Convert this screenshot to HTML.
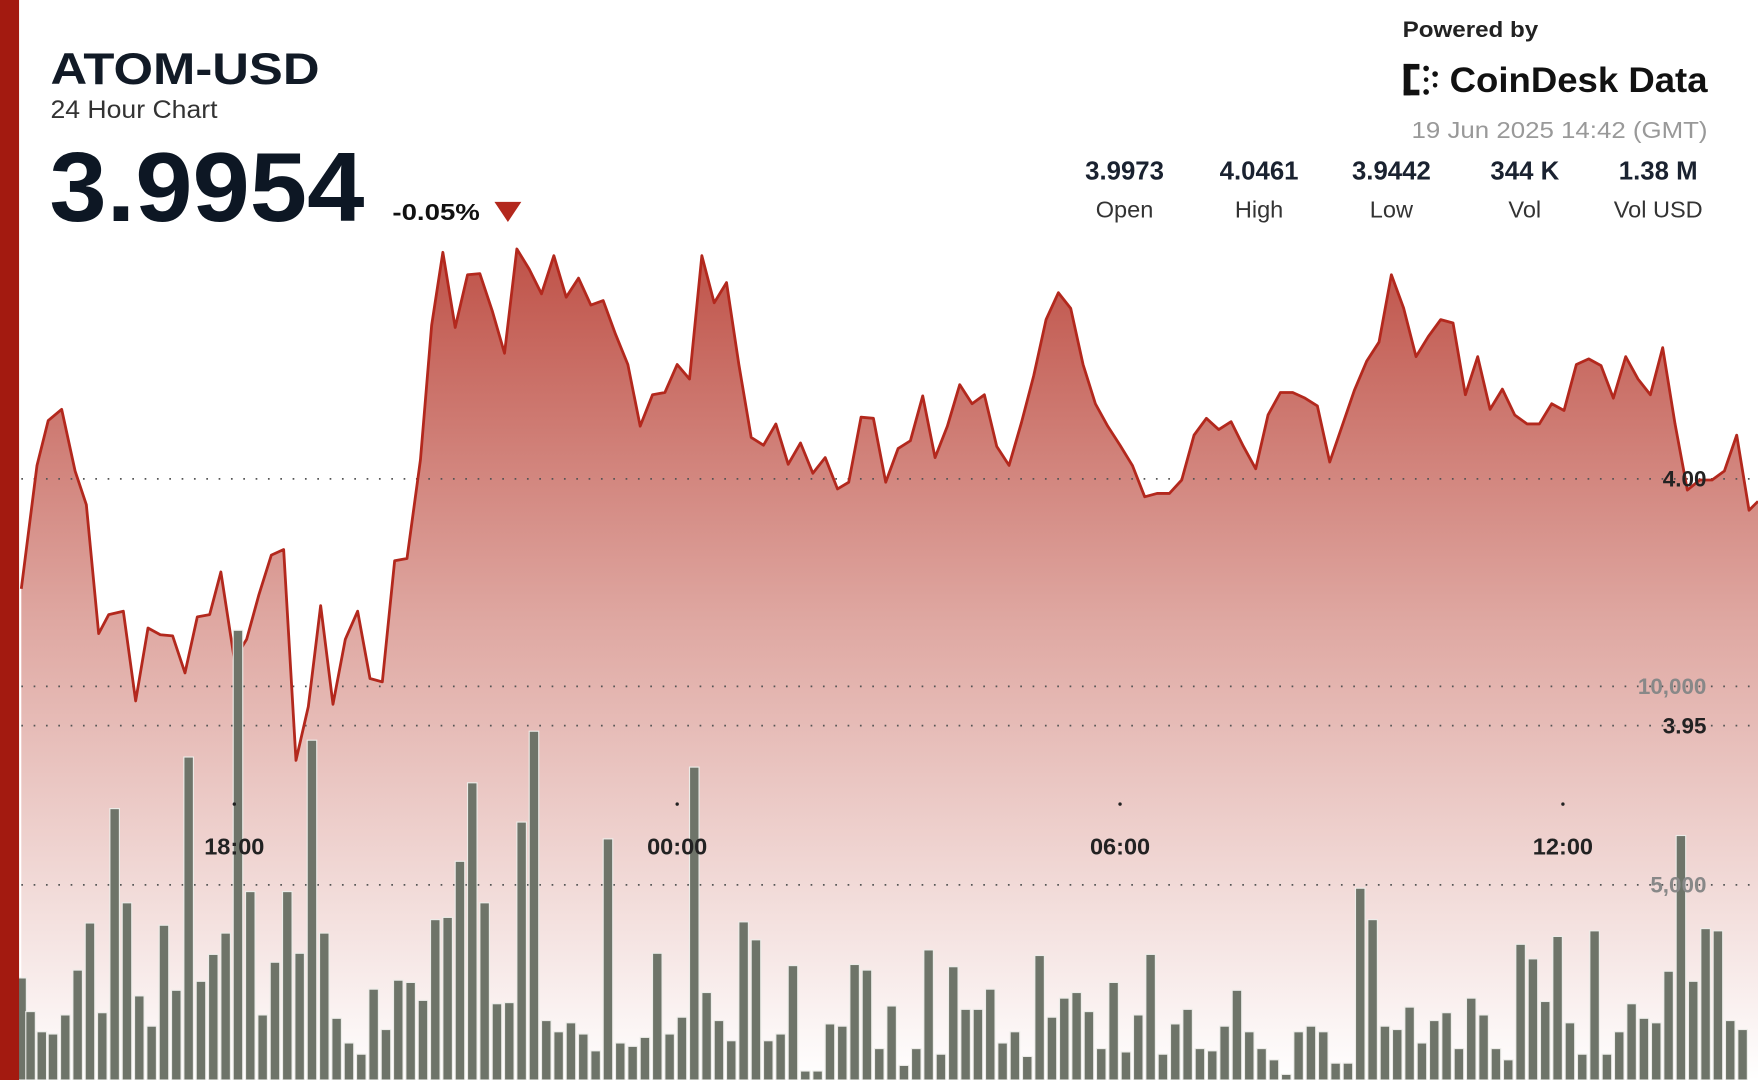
<!DOCTYPE html>
<html><head><meta charset="utf-8"><style>
html,body{margin:0;padding:0;background:#fff;}
svg{display:block;font-family:"Liberation Sans",sans-serif;}
</style></head><body>
<svg width="1758" height="1080" viewBox="0 0 1568 963" preserveAspectRatio="none" xmlns="http://www.w3.org/2000/svg">
<defs>
<linearGradient id="g" x1="0" y1="0" x2="0" y2="1">
<stop offset="0" stop-color="#bf5248"/>
<stop offset="0.45" stop-color="#dfa8a2"/>
<stop offset="1" stop-color="#ffffff"/>
</linearGradient>
</defs>
<rect width="1568" height="963" fill="#fff"/>
<path id="area" fill="url(#g)" d="M19,525 L33,415 43,375 55,365 67,420 77,450 88,565 97,548 110,545 121,625 132,560 143,566 154,567 165,600 176,550 187,548 197,510 209,588 220,570 231,530 242,495 253,490 264,678 275,630 286,540 297,628 308,570 319,545 330,605 341,608 352,500 363,498 375,410 385,290 395,225 406,292 417,245 428,244 439,277 450,315 461,222 472,240 483,262 494,228 505,265 516,248 527,272 538,268 549,298 560,325 571,380 582,352 593,350 604,325 615,338 626,228 637,270 648,252 659,325 670,390 681,397 692,378 703,414 714,395 725,422 736,408 747,436 757,430 768,372 779,373 790,430 801,400 812,393 823,353 834,408 845,380 856,343 867,360 878,352 889,398 900,415 911,377 922,335 933,285 944,261 955,275 966,325 977,360 988,380 999,397 1010,415 1021,443 1032,440 1043,440 1054,428 1065,388 1076,373 1087,383 1098,376 1109,398 1120,418 1131,370 1142,350 1153,350 1164,355 1175,362 1186,412 1197,380 1208,348 1219,322 1230,305 1241,245 1252,275 1263,318 1274,300 1285,285 1296,288 1307,352 1318,318 1329,365 1340,347 1351,370 1362,378 1373,378 1384,360 1395,366 1406,325 1417,320 1428,326 1439,355 1450,318 1461,338 1472,352 1483,310 1494,378 1505,437 1516,428 1527,428 1538,420 1549,388 1560,455 1568,447 L1568,963 L19,963 Z"/>
<g stroke="#555" stroke-width="1.5" stroke-dasharray="1.5 9.5">
<line x1="19" y1="427" x2="1568" y2="427"/>
<line x1="19" y1="612" x2="1568" y2="612"/>
<line x1="19" y1="647" x2="1568" y2="647"/>
<line x1="19" y1="789" x2="1568" y2="789"/>
</g>
<polyline fill="none" stroke="#b3281d" stroke-width="2.5" stroke-linejoin="round" points="19,525 33,415 43,375 55,365 67,420 77,450 88,565 97,548 110,545 121,625 132,560 143,566 154,567 165,600 176,550 187,548 197,510 209,588 220,570 231,530 242,495 253,490 264,678 275,630 286,540 297,628 308,570 319,545 330,605 341,608 352,500 363,498 375,410 385,290 395,225 406,292 417,245 428,244 439,277 450,315 461,222 472,240 483,262 494,228 505,265 516,248 527,272 538,268 549,298 560,325 571,380 582,352 593,350 604,325 615,338 626,228 637,270 648,252 659,325 670,390 681,397 692,378 703,414 714,395 725,422 736,408 747,436 757,430 768,372 779,373 790,430 801,400 812,393 823,353 834,408 845,380 856,343 867,360 878,352 889,398 900,415 911,377 922,335 933,285 944,261 955,275 966,325 977,360 988,380 999,397 1010,415 1021,443 1032,440 1043,440 1054,428 1065,388 1076,373 1087,383 1098,376 1109,398 1120,418 1131,370 1142,350 1153,350 1164,355 1175,362 1186,412 1197,380 1208,348 1219,322 1230,305 1241,245 1252,275 1263,318 1274,300 1285,285 1296,288 1307,352 1318,318 1329,365 1340,347 1351,370 1362,378 1373,378 1384,360 1395,366 1406,325 1417,320 1428,326 1439,355 1450,318 1461,338 1472,352 1483,310 1494,378 1505,437 1516,428 1527,428 1538,420 1549,388 1560,455 1568,447"/>
<g id="bars" fill="#6e7469" stroke="#ecece8" stroke-width="1"></g>
<g fill="#222" font-weight="bold" font-size="21" text-anchor="middle">
<text x="209" y="762">18:00</text><text x="604" y="762">00:00</text><text x="999" y="762">06:00</text><text x="1394" y="762">12:00</text>
<circle cx="209" cy="717" r="1.5"/><circle cx="604" cy="717" r="1.5"/><circle cx="999" cy="717" r="1.5"/><circle cx="1394" cy="717" r="1.5"/>
</g>
<g font-weight="bold" font-size="20" text-anchor="end">
<text x="1522" y="434" fill="#222">4.00</text>
<text x="1522" y="619" fill="#888">10,000</text>
<text x="1522" y="654" fill="#222">3.95</text>
<text x="1522" y="796" fill="#888">5,000</text>
</g>
<rect x="0" y="0" width="17" height="963" fill="#a31a10"/>
<text x="45" y="75" font-size="40" font-weight="bold" fill="#111a26" textLength="240" lengthAdjust="spacingAndGlyphs">ATOM-USD</text>
<text x="45" y="105" font-size="22" fill="#333" textLength="149" lengthAdjust="spacingAndGlyphs">24 Hour Chart</text>
<text x="44" y="197" font-size="88" font-weight="bold" fill="#0d1724" textLength="281" lengthAdjust="spacingAndGlyphs">3.9954</text>
<text x="350" y="196" font-size="21" font-weight="bold" fill="#111" textLength="78" lengthAdjust="spacingAndGlyphs">-0.05%</text>
<polygon points="441,180 465,180 453,198" fill="#b3281d"/>
<text x="1251" y="33" font-size="20" font-weight="bold" fill="#222" textLength="121" lengthAdjust="spacingAndGlyphs">Powered by</text>
<g fill="#111">
<rect x="1252" y="57" width="6" height="28"/><rect x="1252" y="57" width="14" height="5"/><rect x="1252" y="80" width="14" height="5"/>
<circle cx="1272" cy="61" r="2.5"/><circle cx="1280" cy="66" r="2.5"/><circle cx="1272" cy="71" r="2"/><circle cx="1280" cy="76" r="2"/><circle cx="1272" cy="82" r="2.5"/>
</g>
<text x="1293" y="82" font-size="31" font-weight="bold" fill="#111" textLength="230" lengthAdjust="spacingAndGlyphs">CoinDesk Data</text>
<text x="1259" y="123" font-size="21" fill="#999" textLength="264" lengthAdjust="spacingAndGlyphs">19 Jun 2025 14:42 (GMT)</text>
<g text-anchor="middle">
<g font-size="23" font-weight="bold" fill="#1a2230">
<text x="1003" y="160">3.9973</text><text x="1123" y="160">4.0461</text><text x="1241" y="160">3.9442</text><text x="1360" y="160">344 K</text><text x="1479" y="160">1.38 M</text>
</g>
<g font-size="21" fill="#333">
<text x="1003" y="194">Open</text><text x="1123" y="194">High</text><text x="1241" y="194">Low</text><text x="1360" y="194">Vol</text><text x="1479" y="194">Vol USD</text>
</g>
</g>
</svg>
<script>
var d=[[19,872],[27,902],[37,920],[47,922],[58,905],[69,865],[80,823],[91,903],[102,721],[113,805],[124,888],[135,915],[146,825],[157,883],[168,675],[179,875],[190,851],[201,832],[212,562],[223,795],[234,905],[245,858],[256,795],[267,850],[278,660],[289,832],[300,908],[311,930],[322,940],[333,882],[344,918],[355,874],[366,876],[377,892],[388,820],[399,818],[410,768],[421,698],[432,805],[443,895],[454,894],[465,733],[476,652],[487,910],[498,920],[509,912],[520,922],[531,937],[542,748],[553,930],[564,933],[575,925],[586,850],[597,922],[608,907],[619,684],[630,885],[641,910],[652,928],[663,822],[674,838],[685,928],[696,922],[707,861],[718,955],[729,955],[740,913],[751,915],[762,860],[773,865],[784,935],[795,897],[806,950],[817,935],[828,847],[839,940],[850,862],[861,900],[872,900],[883,882],[894,930],[905,920],[916,942],[927,852],[938,907],[949,890],[960,885],[971,902],[982,935],[993,876],[1004,938],[1015,905],[1026,851],[1037,940],[1048,913],[1059,900],[1070,935],[1081,937],[1092,915],[1103,883],[1114,920],[1125,935],[1136,945],[1147,958],[1158,920],[1169,915],[1180,920],[1191,948],[1202,948],[1213,792],[1224,820],[1235,915],[1246,918],[1257,898],[1268,930],[1279,910],[1290,903],[1301,935],[1312,890],[1323,905],[1334,935],[1345,945],[1356,842],[1367,855],[1378,893],[1389,835],[1400,912],[1411,940],[1422,830],[1433,940],[1444,920],[1455,895],[1466,908],[1477,912],[1488,866],[1499,745],[1510,875],[1521,828],[1532,830],[1543,910],[1554,918]];
var g=document.getElementById('bars'),ns='http://www.w3.org/2000/svg';
d.forEach(function(p){var r=document.createElementNS(ns,'rect');r.setAttribute('x',p[0]-4);r.setAttribute('y',p[1]);r.setAttribute('width',8.5);r.setAttribute('height',963-p[1]);g.appendChild(r);});
</script>
</body></html>
